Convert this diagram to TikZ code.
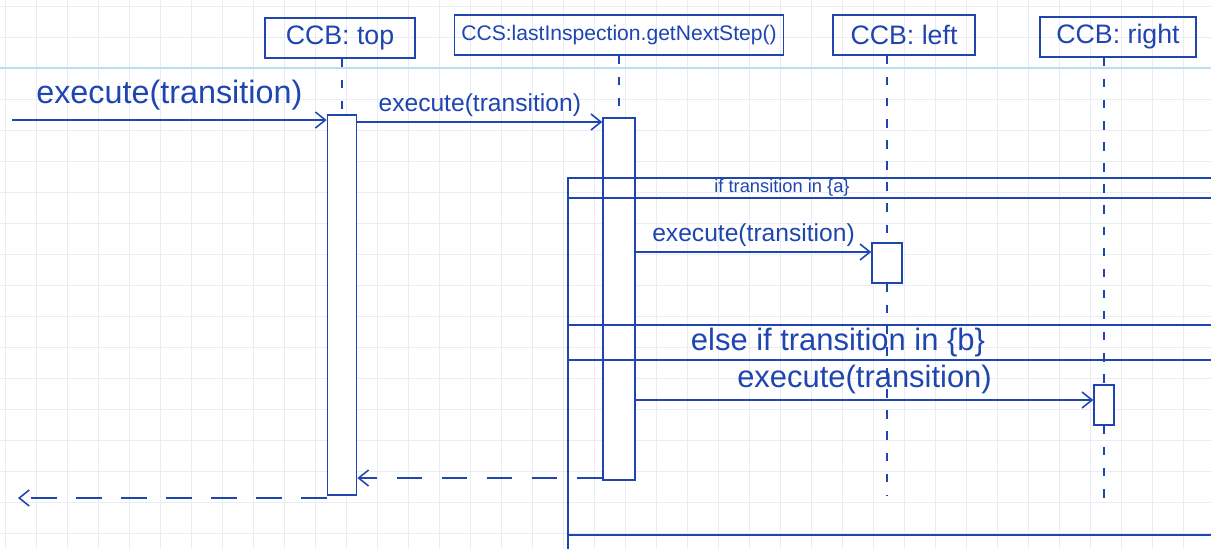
\documentclass[tikz,border=0pt]{standalone}
\usepackage{fontspec}
\setmainfont{Liberation Sans}
\usetikzlibrary{arrows.meta,positioning,backgrounds}
\definecolor{inkblue}{HTML}{1F45B0}
\definecolor{gridgrey}{HTML}{E9EDF3}
\definecolor{marginblue}{HTML}{B9DDF2}

\begin{document}
\begin{tikzpicture}[x=0.025cm,y=-0.025cm,
  head/.style={draw=inkblue,line width=1.1pt,text=inkblue,minimum height=1cm,inner xsep=5pt,
               font=\fontsize{19}{21}\selectfont},
  act/.style={draw=inkblue,line width=1.1pt,fill=white,inner sep=0pt},
  life/.style={draw=inkblue,line width=1.1pt,dash pattern=on 6pt off 9pt},
  msg/.style={-{Straight Barb[length=2.5mm,width=4mm]},line width=1.1pt,draw=inkblue},
  ret/.style={msg,dash pattern=on 18pt off 14pt},
  frm/.style={draw=inkblue,line width=1.1pt},
  lbl/.style={text=inkblue,font=\fontsize{17.5}{20}\selectfont}
]
\useasboundingbox (0,0) rectangle (1211,549);

% lifeline heads
\node[head,minimum width=3.75cm] (top) at (340,38) {CCB: top};
\node[head,minimum width=8.2cm,font=\fontsize{15}{17}\selectfont] (ccs) at (619,35)
     {CCS:lastInspection.getNextStep()};
\node[head,minimum width=3.55cm] (left) at (904,35) {CCB: left};
\node[head,minimum width=3.9cm] (right) at (1118,37) {CCB: right};

% activations
\node[act,minimum width=0.73cm,minimum height=9.5cm] (acttop) at (342,305) {};
\node[act,minimum width=0.8cm,minimum height=9.05cm] (actccs) at (619,299) {};
\node[act,minimum width=0.75cm,minimum height=1cm] (actleft) at (887,263) {};
\node[act,minimum width=0.5cm,minimum height=1cm] (actright) at (1104,405) {};

% paper and lifelines
\coordinate (leftend) at (0,495);
\coordinate (rightend) at (0,505);
\begin{scope}[on background layer]
\fill[white] (0,0) rectangle (1211,549);
\foreach \gx in {5,36,...,1211} \draw[gridgrey] (\gx,0) -- (\gx,549);
\foreach \gy in {6,37,...,549} \draw[gridgrey] (0,\gy) -- (1211,\gy);
\draw[marginblue,line width=1.5pt] (0,68) -- (1211,68);
\draw[life] (top.south -| acttop) -- (acttop.north);
\draw[life] (ccs.south -| actccs) -- (actccs.north);
\draw[life] (left.south -| actleft) -- (actleft.north);
\draw[life] (actleft.south) -- (actleft |- leftend);
\draw[life] (right.south -| actright) -- (actright.north);
\draw[life] (actright.south) -- (actright |- rightend);
\end{scope}

% alt frame
\draw[frm] (1211,178) -- (568,178) -- (568,549);
\draw[frm] (568,198) -- (1211,198);
\draw[frm] (568,325) -- (1211,325);
\draw[frm] (568,360) -- (1211,360);
\draw[frm] (568,535) -- (1211,535);
\node[lbl,inner sep=1pt,font=\fontsize{13}{15}\selectfont] (guarda) at (782,188) {if transition in \{a\}};
\node[lbl,inner sep=1pt,font=\fontsize{22}{24}\selectfont] (guardb) at (838,342) {else if transition in \{b\}};

% messages
\coordinate (caller) at (12,120);
\coordinate (r2) at (0,122);
\coordinate (r3) at (0,252);
\coordinate (r4) at (0,400);
\coordinate (r5) at (0,478);
\coordinate (exit) at (18,498);
\draw[msg] (caller) -- node[lbl,above=3pt,font=\fontsize{23}{25}\selectfont]{execute(transition)}
                       (acttop.west |- caller);
\draw[msg] (acttop.east |- r2) -- node[lbl,above]{execute(transition)} (actccs.west |- r2);
\draw[msg] (actccs.east |- r3) -- node[lbl,above]{execute(transition)} (actleft.west |- r3);
\draw[msg] (actccs.east |- r4) -- node[lbl,above=3pt,inner sep=1pt,font=\fontsize{22}{24}\selectfont]
                       {execute(transition)} (actright.west |- r4);
\draw[ret] (actccs.west |- r5) -- (acttop.east |- r5);
\draw[ret] (acttop.west |- exit) -- (exit);
\end{tikzpicture}
\end{document}
